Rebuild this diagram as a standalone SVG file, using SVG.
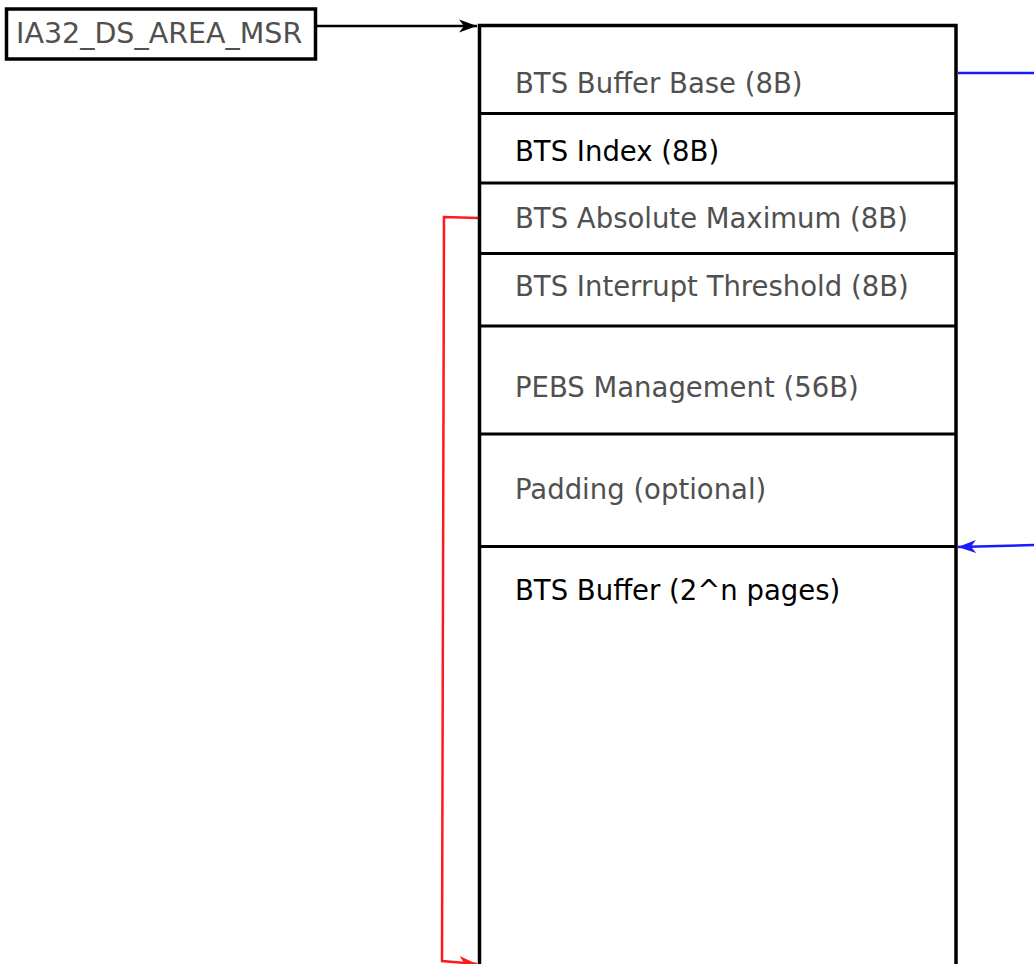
<svg xmlns="http://www.w3.org/2000/svg" width="1034" height="964" viewBox="0 0 1034 964">
  <style>
    .lbl { font-family: "DejaVu Sans", Verdana, sans-serif; font-size: 27.5px; fill: #505050; }
    .dark { fill: #000000; }
    .box { fill: #ffffff; stroke: #000000; stroke-width: 3.5; }
    .div { stroke: #000000; stroke-width: 3; fill: none; }
    .edge { fill: none; stroke-width: 2.5; }
  </style>
  <defs>
    <marker id="arrBlack" markerUnits="userSpaceOnUse" markerWidth="20" markerHeight="16" refX="18" refY="8" orient="auto">
      <path d="M0,1.5 L18,8 L0,14.5 L5,8 Z" fill="#000000"/>
    </marker>
    <marker id="arrBlue" markerUnits="userSpaceOnUse" markerWidth="20" markerHeight="16" refX="18" refY="8" orient="auto">
      <path d="M0,1.5 L18,8 L0,14.5 L5,8 Z" fill="#1a1aff"/>
    </marker>
    <marker id="arrRed" markerUnits="userSpaceOnUse" markerWidth="20" markerHeight="16" refX="18" refY="8" orient="auto">
      <path d="M0,1.5 L18,8 L0,14.5 L5,8 Z" fill="#ff1a1a"/>
    </marker>
  </defs>

  <rect width="1034" height="964" fill="#ffffff"/>

  <!-- connectors -->
  <g id="connectors">
    <path class="edge" d="M316,26 L477,26" stroke="#000000" stroke-width="1.8" marker-end="url(#arrBlack)"/>
    <path class="edge" d="M958,73 L1034,73" stroke="#1a1aff"/>
    <path class="edge" d="M1034,545 L958,547" stroke="#1a1aff" marker-end="url(#arrBlue)"/>
    <path class="edge" d="M479,218 L444,217 L442,961 L477,964" stroke="#ff1a1a" stroke-width="2.2" marker-end="url(#arrRed)"/>
  </g>

  <!-- MSR register -->
  <g id="msr">
    <rect class="box" x="6.5" y="9" width="309" height="50"/>
    <text class="lbl" x="16" y="43" style="font-size:28.5px">IA32_DS_AREA_MSR</text>
  </g>

  <!-- DS save area layout -->
  <g id="ds-area">
    <path class="box" d="M479.5,990 L479.5,25.5 L956,25.5 L956,990"/>
    <line class="div" x1="479" y1="113.5" x2="956" y2="113.5"/>
    <line class="div" x1="479" y1="183" x2="956" y2="183"/>
    <line class="div" x1="479" y1="253.5" x2="956" y2="253.5"/>
    <line class="div" x1="479" y1="326" x2="956" y2="326"/>
    <line class="div" x1="479" y1="434" x2="956" y2="434"/>
    <line class="div" x1="479" y1="546.5" x2="956" y2="546.5"/>
  </g>
  <g id="bts-buffer-base"><text class="lbl" x="515" y="93">BTS Buffer Base (8B)</text></g>
  <g id="bts-index"><text class="lbl dark" x="515" y="161">BTS Index (8B)</text></g>
  <g id="bts-abs-max"><text class="lbl" x="515" y="228">BTS Absolute Maximum (8B)</text></g>
  <g id="bts-int-thresh"><text class="lbl" x="515" y="296">BTS Interrupt Threshold (8B)</text></g>
  <g id="pebs-mgmt"><text class="lbl" x="515" y="397">PEBS Management (56B)</text></g>
  <g id="padding"><text class="lbl" x="515" y="499">Padding (optional)</text></g>
  <g id="bts-buffer"><text class="lbl dark" x="515" y="600">BTS Buffer (2^n pages)</text></g>
</svg>
